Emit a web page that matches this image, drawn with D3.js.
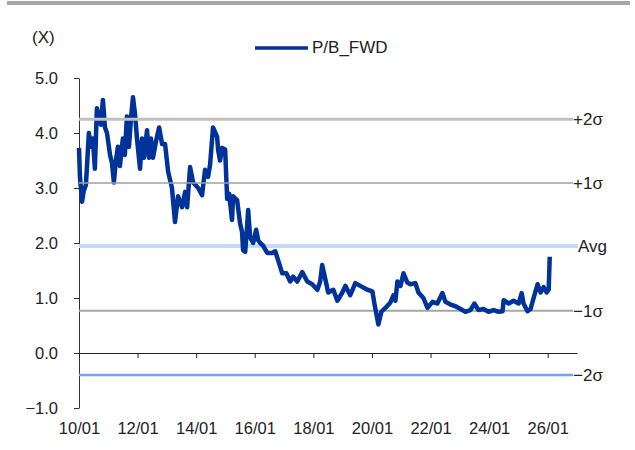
<!DOCTYPE html>
<html>
<head>
<meta charset="utf-8">
<script src="https://cdn.jsdelivr.net/npm/d3@7"></script>
<style>
  body { margin: 0; background: #fff; }
  text { font-family: "Liberation Sans", Arial, sans-serif; fill: #222; }
</style>
</head>
<body>
<div id="chart"></div>
<script>
// P/B forward
var dates = [
  "2010-01-01","2010-01-13","2010-02-08","2010-03-02","2010-03-27","2010-04-09","2010-05-04","2010-05-29",
  "2010-06-23","2010-07-18","2010-08-12","2010-09-07","2010-10-01","2010-10-26","2010-11-21","2010-12-16",
  "2011-01-23","2011-02-17","2011-03-12","2011-04-06","2011-05-01","2011-05-26","2011-07-02","2011-07-27",
  "2011-08-21","2011-09-16","2011-10-10","2011-11-05","2011-11-30","2011-12-25","2012-02-01","2012-02-26",
  "2012-03-21","2012-04-28","2012-05-23","2012-06-16","2012-07-11","2012-08-18","2012-09-26","2012-11-02",
  "2012-12-09","2013-01-16","2013-03-05","2013-04-12","2013-05-20","2013-07-09","2013-08-16","2013-09-10",
  "2013-10-17","2013-11-24","2014-01-26","2014-03-15","2014-04-22","2014-05-29","2014-06-23","2014-07-30",
  "2014-09-19","2014-10-01","2014-10-26","2014-11-21","2014-12-28","2015-01-22","2015-02-16","2015-03-24",
  "2015-04-06","2015-05-26","2015-07-02","2015-07-27","2015-08-09","2015-09-04","2015-09-28","2015-10-11",
  "2015-11-05","2015-12-12","2016-01-19","2016-02-13","2016-03-09","2016-04-15","2016-06-04","2016-08-06",
  "2016-09-13","2016-10-20","2016-12-09","2017-01-29","2017-03-18","2017-04-25","2017-06-14","2017-08-16",
  "2017-10-17","2017-12-18","2018-02-20","2018-03-27","2018-04-21","2018-05-29","2018-07-05","2018-09-07",
  "2018-10-27","2018-12-28","2019-02-04","2019-04-06","2019-06-08","2019-08-09","2019-11-05","2020-01-07",
  "2020-02-01","2020-03-21","2020-04-28","2020-06-17","2020-08-19","2020-09-25","2020-10-20","2020-11-14",
  "2020-12-22","2021-01-29","2021-03-18","2021-04-25","2021-06-26","2021-08-03","2021-10-04","2021-11-24",
  "2022-01-26","2022-03-27","2022-05-29","2022-07-05","2022-09-07","2022-11-08","2023-01-10","2023-03-12",
  "2023-05-13","2023-07-02","2023-08-21","2023-10-22","2023-12-24","2024-02-26","2024-04-28","2024-06-17",
  "2024-06-30","2024-09-01","2024-11-02","2025-01-04","2025-02-10","2025-03-05","2025-04-24","2025-06-01",
  "2025-07-09","2025-08-28","2025-10-04","2025-11-11","2025-12-18","2026-01-13","2026-01-26"
];
var pbValues = [
  3.73, 3.2, 2.75, 2.95, 3.05, 3.35, 4.0, 3.75,
  3.9, 3.35, 4.45, 4.3, 4.15, 4.6, 4.1, 4.0,
  3.6, 3.45, 3.1, 3.5, 3.75, 3.4, 3.9, 3.6,
  4.3, 3.75, 4.25, 4.65, 4.35, 3.9, 3.35, 3.9,
  3.55, 4.05, 3.55, 3.9, 3.55, 3.85, 4.1, 3.8,
  3.8, 3.3, 3.0, 2.38, 2.85, 2.65, 2.93, 2.65,
  3.38, 3.1, 3.0, 2.87, 3.33, 3.2, 3.42, 4.1,
  3.93, 3.7, 3.5, 3.73, 3.7, 2.8, 2.9, 2.42,
  2.85, 2.78, 2.36, 2.2, 1.87, 1.84, 2.3, 2.6,
  2.1, 2.0, 2.24, 2.05, 2.0, 1.95, 1.82, 1.82,
  1.85, 1.68, 1.45, 1.45, 1.3, 1.39, 1.3, 1.47,
  1.3, 1.25, 1.15, 1.3, 1.6, 1.35, 1.1, 1.15,
  0.95, 1.1, 1.22, 1.05, 1.27, 1.22, 1.15, 1.12,
  0.9, 0.52, 0.75, 0.82, 0.92, 1.05, 0.95, 1.3,
  1.22, 1.45, 1.28, 1.25, 1.27, 1.1, 1.0, 0.82,
  0.93, 0.9, 1.09, 0.93, 0.88, 0.85, 0.8, 0.75,
  0.78, 0.9, 0.78, 0.8, 0.75, 0.78, 0.75, 0.76,
  0.96, 0.9, 0.95, 0.9, 1.09, 0.9, 0.76, 0.8,
  1.0, 1.25, 1.1, 1.2, 1.1, 1.15, 1.75
];

var bandNames = ["+2σ", "+1σ", "Avg", "−1σ", "−2σ"];
var bandValues = [4.25, 3.09, 1.945, 0.77, -0.40];
var bandColors = ["#c0c0c0", "#a0a0a0", "#c6d9f8", "#a6a6a6", "#78a3ee"];
var bandWidths = [3, 1.5, 4, 2, 2.5];
var bandOnTop = [true, true, false, false, false];

var xTicks = ["2010-01-01","2012-01-01","2014-01-01","2016-01-01","2018-01-01",
  "2020-01-01","2022-01-01","2024-01-01","2026-01-01"];
var yTicks = [-1, 0, 1, 2, 3, 4, 5];

var width = 635, height = 450;
var parse = d3.timeParse("%Y-%m-%d");

var data = dates.map((d, i) => ({date: parse(d), value: pbValues[i]}));
var bands = bandNames.map((d, i) => ({name: d, value: bandValues[i], color: bandColors[i],
  width: bandWidths[i], top: bandOnTop[i]}));

var x = d3.scaleTime()
    .domain([parse("2010-01-01"), parse("2027-01-01")])
    .range([79, 577]);
var y = d3.scaleLinear()
    .domain([-1, 5])
    .range([408, 78]);

var svg = d3.select("#chart").append("svg")
    .attr("width", width)
    .attr("height", height);

svg.append("rect")
    .attr("x", 7).attr("y", 1)
    .attr("width", 623).attr("height", 4)
    .attr("fill", "#a6a6a6");

// y axis
var yAxis = svg.append("g")
    .attr("transform", "translate(" + x.range()[0] + ",0)")
    .call(d3.axisLeft(y).tickValues(yTicks).tickFormat(d3.format(".1f"))
        .tickSize(5).tickPadding(16).tickSizeOuter(0));
yAxis.selectAll("text").style("font-size", "16.5px");
yAxis.selectAll("path, line").attr("stroke", "#333");

// x axis sits at zero, labels below the plot
var xAxis = svg.append("g")
    .attr("transform", "translate(0," + y(0) + ")")
    .call(d3.axisBottom(x).tickValues(xTicks.map(parse)).tickFormat(d3.timeFormat("%y/%m"))
        .tickSize(5).tickSizeOuter(0));
xAxis.selectAll("text").attr("y", 69).style("font-size", "16.5px");
xAxis.selectAll("path, line").attr("stroke", "#222");

function drawBands(list) {
  svg.selectAll(null)
      .data(list)
      .enter().append("line")
      .attr("x1", x.range()[0])
      .attr("x2", (d) => d.name == "Avg" ? x.range()[1] + 1 : x.range()[1] - 4)
      .attr("y1", (d) => y(d.value))
      .attr("y2", (d) => y(d.value))
      .attr("stroke", (d) => d.color)
      .attr("stroke-width", (d) => d.width);
}

drawBands(bands.filter((d) => !d.top));

svg.append("path")
    .datum(data)
    .attr("fill", "none")
    .attr("stroke", "#003399")
    .attr("stroke-width", 4.5)
    .attr("stroke-linejoin", "round")
    .attr("d", d3.line().x((d) => x(d.date)).y((d) => y(d.value)));

drawBands(bands.filter((d) => d.top));

svg.selectAll(".bandLabel")
    .data(bands)
    .enter().append("text")
    .attr("class", "bandLabel")
    .attr("x", (d) => d.name == "Avg" ? x.range()[1] + 1 : x.range()[1] - 4)
    .attr("y", (d) => y(d.value))
    .attr("dy", "0.35em")
    .style("font-size", "17px")
    .text((d) => d.name);

svg.append("text")
    .attr("x", 32).attr("y", 43)
    .style("font-size", "17px")
    .text("(X)");

// legend
svg.append("line")
    .attr("x1", 255).attr("x2", 308)
    .attr("y1", 48).attr("y2", 48)
    .attr("stroke", "#003399")
    .attr("stroke-width", 3.5);
svg.append("text")
    .attr("x", 312).attr("y", 53)
    .style("font-size", "17px")
    .text("P/B_FWD");
</script>
</body>
</html>
